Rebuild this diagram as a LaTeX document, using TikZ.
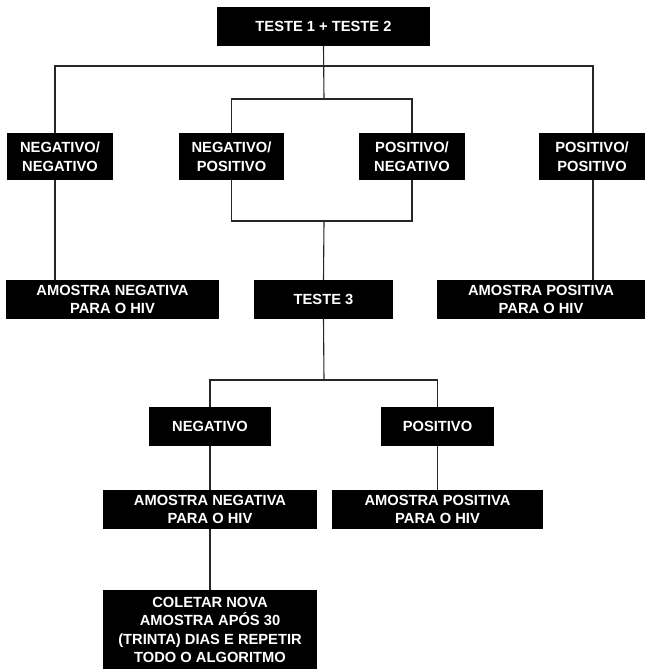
\documentclass[tikz,border=0pt]{standalone}
\usepackage{fontspec}
\setmainfont{Liberation Sans}
\begin{document}
\begin{tikzpicture}[x=1pt,y=-1pt,
  box/.style={fill=black,text=white,inner sep=0pt,align=center,
    font=\bfseries\fontsize{14.7}{18.5}\selectfont},
  conn/.style={line width=1.1pt,draw=black!85}]
\useasboundingbox (0,0) rectangle (645,669);
\node[box,minimum width=213,minimum height=39] (t12) at (323.5,26.5) {TESTE 1 + TESTE 2};
\node[box,minimum width=106,minimum height=47] (nn) at (60,156.5) {NEGATIVO/\\NEGATIVO};
\node[box,minimum width=105,minimum height=47] (np) at (231.5,156.5) {NEGATIVO/\\POSITIVO};
\node[box,minimum width=106,minimum height=47] (pn) at (412,156.5) {POSITIVO/\\NEGATIVO};
\node[box,minimum width=106,minimum height=47] (pp) at (592,156.5) {POSITIVO/\\POSITIVO};
\node[box,minimum width=213,minimum height=39] (an1) at (112.5,299.5) {AMOSTRA NEGATIVA\\PARA O HIV};
\node[box,minimum width=139,minimum height=39] (t3) at (323.5,299.5) {TESTE 3};
\node[box,minimum width=208,minimum height=39] (ap1) at (541,299.5) {AMOSTRA POSITIVA\\PARA O HIV};
\node[box,minimum width=122,minimum height=39] (neg) at (210,426.5) {NEGATIVO};
\node[box,minimum width=113,minimum height=39] (pos) at (437.5,426.5) {POSITIVO};
\node[box,minimum width=214,minimum height=39] (an2) at (210,509.5) {AMOSTRA NEGATIVA\\PARA O HIV};
\node[box,minimum width=211,minimum height=39] (ap2) at (437.5,509.5) {AMOSTRA POSITIVA\\PARA O HIV};
\node[box,minimum width=214,minimum height=80] (col) at (210,630) {COLETAR NOVA\\AMOSTRA APÓS 30\\(TRINTA) DIAS E REPETIR\\TODO O ALGORITMO};
\coordinate (h1l) at (55,66);
\coordinate (h1r) at (593,66);
\coordinate (j2) at (324,99);
\coordinate (j3) at (324,221);
\coordinate (j4) at (324,380);
\draw[conn] (t12.south) -- (j2);
\draw[conn] (nn.north -| h1l) -- (h1l) -- (h1r) -- (pp.north -| h1r);
\draw[conn] (np.north) |- (j2) -| (pn.north);
\draw[conn] (np.south) |- (j3) -| (pn.south);
\draw[conn] (j3) -- (t3.north);
\draw[conn] (nn.south -| h1l) -- (an1.north -| h1l);
\draw[conn] (pp.south -| h1r) -- (ap1.north -| h1r);
\draw[conn] (t3.south) -- (j4);
\draw[conn] (neg.north) |- (j4) -| (pos.north);
\draw[conn] (neg.south) -- (an2.north);
\draw[conn] (pos.south) -- (ap2.north);
\draw[conn] (an2.south) -- (col.north);
\end{tikzpicture}
\end{document}
